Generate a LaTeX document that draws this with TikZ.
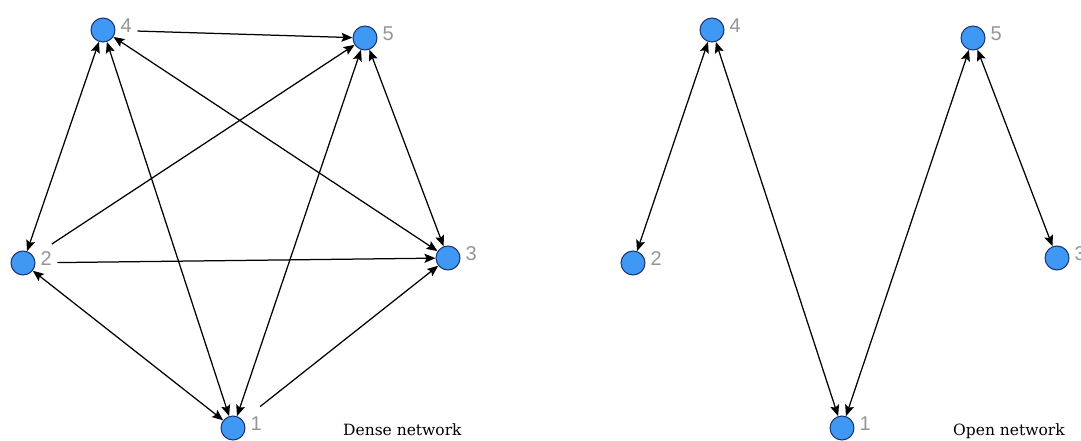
\documentclass[tikz,border=0pt]{standalone}
\usepackage{fontspec}
\setmainfont{DejaVu Serif}
\newfontfamily\labelfont{Liberation Sans}
\usetikzlibrary{arrows.meta}
\definecolor{nodeblue}{RGB}{64,152,245}
\definecolor{nodeedge}{RGB}{28,48,110}
\definecolor{labelgray}{RGB}{150,150,150}
\begin{document}
\begin{tikzpicture}[x=1pt,y=-1pt,
  label distance=5pt,
  vertex/.style={circle,fill=nodeblue,draw=nodeedge,line width=1pt,minimum size=24pt,inner sep=0pt},
  tag/.style={text=labelgray,font=\labelfont\fontsize{20}{20}\selectfont,inner sep=0pt,yshift=4pt},
  oneway/.style={line width=1.25pt,-{Stealth[length=11pt,width=9pt,inset=2pt]},shorten <=22pt},
  twoway/.style={line width=1.25pt,{Stealth[length=11pt,width=9pt,inset=2pt]}-{Stealth[length=11pt,width=9pt,inset=2pt]}},
  caption/.style={anchor=base west,font=\fontsize{15.5}{17}\selectfont,inner sep=0pt}]
\useasboundingbox[fill=white] (0,0) rectangle (1081,441);

% dense network
\node[vertex,label={[tag]right:1}] (a1) at (233,428) {};
\node[vertex,label={[tag]right:2}] (a2) at (23,263) {};
\node[vertex,label={[tag]right:3}] (a3) at (448,258) {};
\node[vertex,label={[tag]right:4}] (a4) at (103,30) {};
\node[vertex,label={[tag]right:5}] (a5) at (365,38) {};

\draw[oneway] (a4) -- (a5);
\draw[oneway] (a2) -- (a5);
\draw[oneway] (a2) -- (a3);
\draw[oneway] (a1) -- (a3);
\draw[twoway] (a4) -- (a2);
\draw[twoway] (a4) -- (a1);
\draw[twoway] (a4) -- (a3);
\draw[twoway] (a5) -- (a1);
\draw[twoway] (a5) -- (a3);
\draw[twoway] (a2) -- (a1);

\node[caption] (dense) at (343,435) {Dense network};

% open network
\node[vertex,label={[tag]right:1}] (b1) at (842,428) {};
\node[vertex,label={[tag]right:2}] (b2) at (633,263) {};
\node[vertex,label={[tag]right:3}] (b3) at (1057,258) {};
\node[vertex,label={[tag]right:4}] (b4) at (712,30) {};
\node[vertex,label={[tag]right:5}] (b5) at (973,38) {};

\draw[twoway] (b4) -- (b2);
\draw[twoway] (b4) -- (b1);
\draw[twoway] (b5) -- (b1);
\draw[twoway] (b5) -- (b3);

\node[caption] (open) at (953,435) {Open network};
\end{tikzpicture}
\end{document}
